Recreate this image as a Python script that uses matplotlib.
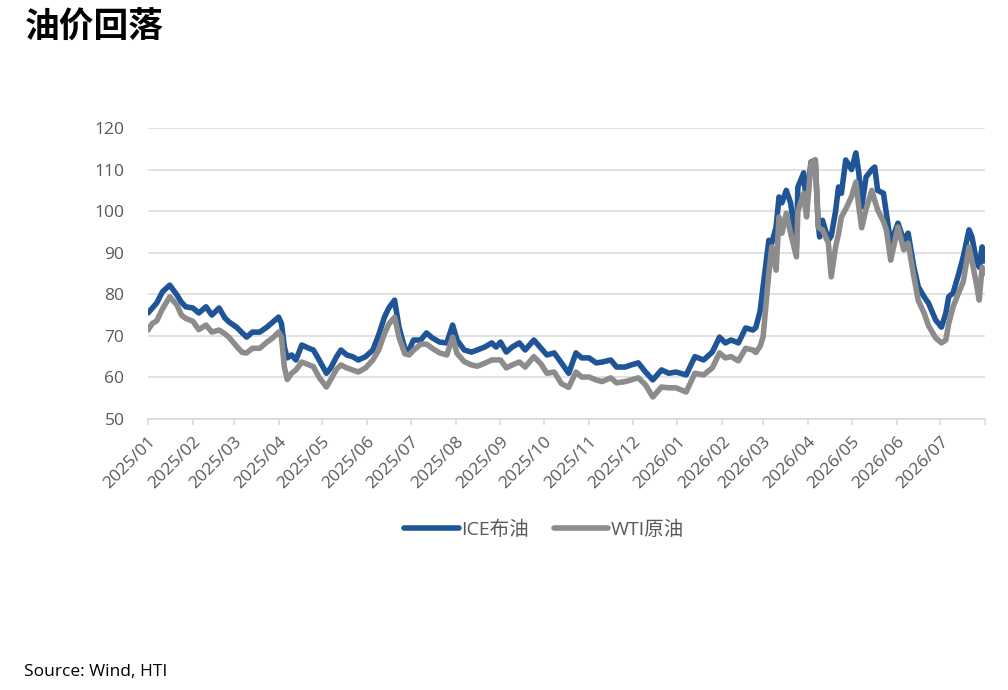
import matplotlib
matplotlib.use("Agg")
import matplotlib.pyplot as plt
import matplotlib.dates as mdates
import pandas as pd

dates = [
    "2025-01-01", "2025-01-04", "2025-01-07", "2025-01-11", "2025-01-16", "2025-01-21", "2025-01-24", "2025-01-27",
    "2025-02-01", "2025-02-05", "2025-02-10", "2025-02-14", "2025-02-19", "2025-02-23", "2025-02-26",
    "2025-03-03", "2025-03-07", "2025-03-10", "2025-03-14", "2025-03-19", "2025-03-24", "2025-03-28",
    "2025-04-01", "2025-04-03", "2025-04-05", "2025-04-07", "2025-04-10", "2025-04-13", "2025-04-17", "2025-04-22",
    "2025-04-25", "2025-04-29",
    "2025-05-04", "2025-05-07", "2025-05-11", "2025-05-14", "2025-05-18", "2025-05-22", "2025-05-26", "2025-05-31",
    "2025-06-05", "2025-06-09", "2025-06-13", "2025-06-16", "2025-06-20", "2025-06-23", "2025-06-27", "2025-06-30",
    "2025-07-03", "2025-07-08", "2025-07-12", "2025-07-16", "2025-07-21", "2025-07-26", "2025-07-30",
    "2025-08-02", "2025-08-07", "2025-08-12", "2025-08-16", "2025-08-21", "2025-08-26", "2025-08-29",
    "2025-09-01", "2025-09-05", "2025-09-09", "2025-09-14", "2025-09-18", "2025-09-24", "2025-09-29",
    "2025-10-03", "2025-10-08", "2025-10-13", "2025-10-18", "2025-10-23", "2025-10-27",
    "2025-11-01", "2025-11-06", "2025-11-10", "2025-11-16", "2025-11-20", "2025-11-26", "2025-11-30",
    "2025-12-05", "2025-12-10", "2025-12-15", "2025-12-21", "2025-12-26", "2025-12-31",
    "2026-01-07", "2026-01-13", "2026-01-19", "2026-01-25", "2026-01-30",
    "2026-02-03", "2026-02-07", "2026-02-12", "2026-02-17", "2026-02-22", "2026-02-24", "2026-02-27",
    "2026-03-01", "2026-03-05", "2026-03-07", "2026-03-10", "2026-03-12", "2026-03-14", "2026-03-17", "2026-03-20",
    "2026-03-24", "2026-03-25", "2026-03-29", "2026-03-31",
    "2026-04-03", "2026-04-06", "2026-04-08", "2026-04-09", "2026-04-11", "2026-04-15", "2026-04-17", "2026-04-20",
    "2026-04-22", "2026-04-24", "2026-04-27",
    "2026-05-01", "2026-05-04", "2026-05-06", "2026-05-08", "2026-05-11", "2026-05-15", "2026-05-17", "2026-05-19",
    "2026-05-23", "2026-05-25", "2026-05-28",
    "2026-06-02", "2026-06-06", "2026-06-09", "2026-06-13", "2026-06-16", "2026-06-20", "2026-06-23", "2026-06-28",
    "2026-07-02", "2026-07-05", "2026-07-07", "2026-07-10", "2026-07-14", "2026-07-17", "2026-07-21", "2026-07-23",
    "2026-07-26", "2026-07-28", "2026-07-30", "2026-07-31",
]

brent = [
    75.5, 76.7, 77.9, 80.6, 82.2, 79.8, 78.1, 77.0,
    76.7, 75.5, 77.0, 75.0, 76.7, 74.3, 73.3,
    72.1, 70.7, 69.7, 70.9, 70.9, 72.1, 73.3,
    74.5, 73.0, 67.3, 64.7, 65.4, 64.2, 67.8, 67.0,
    66.6, 64.2,
    61.0, 62.3, 65.0, 66.6, 65.4, 65.0, 64.2, 65.0,
    66.6, 70.2, 74.5, 76.7, 78.6, 72.1, 67.0, 66.6,
    69.0, 69.0, 70.7, 69.5, 68.5, 68.3, 72.6,
    69.0, 66.6, 66.1, 66.6, 67.3, 68.3, 67.3,
    68.5, 66.1, 67.3, 68.3, 66.6, 69.0, 67.0,
    65.4, 65.9, 63.5, 61.0, 65.9, 64.7,
    64.7, 63.5, 63.7, 64.2, 62.5, 62.5, 63.0,
    63.5, 61.3, 59.4, 61.8, 61.0, 61.3,
    60.6, 65.0, 64.2, 66.1, 69.7,
    68.3, 69.0, 68.3, 71.9, 71.4, 72.0, 76.0,
    81.8, 93.0, 92.3, 96.2, 103.4, 102.0, 105.0, 102.0,
    91.4, 105.8, 109.2, 101.0,
    111.8, 112.3, 97.1, 93.8, 97.8, 93.0, 94.0, 100.0,
    105.8, 104.3, 112.3,
    110.0, 114.0, 109.2, 101.0, 108.2, 110.0, 110.6, 105.0,
    104.3, 99.5, 92.3,
    97.1, 93.0, 94.7, 86.5, 81.8, 79.4, 77.9, 73.8,
    72.1, 75.5, 79.4, 80.3, 85.1, 89.0, 95.5, 93.8,
    88.2, 86.5, 91.4, 88.0,
]

wti = [
    71.4, 73.0, 73.6, 76.5, 79.4, 77.4, 75.0, 74.2,
    73.5, 71.5, 72.6, 70.9, 71.4, 70.5, 69.6,
    67.5, 66.0, 65.9, 67.0, 67.0, 68.5, 69.5,
    70.9, 69.7, 62.5, 59.5, 61.0, 61.8, 63.7, 63.0,
    62.6, 60.0,
    57.7, 59.5, 62.0, 63.0, 62.3, 61.8, 61.3, 62.3,
    64.2, 66.6, 70.5, 72.8, 74.5, 69.7, 65.7, 65.4,
    66.5, 68.0, 68.0, 67.0, 65.9, 65.4, 69.7,
    65.8, 63.8, 63.0, 62.7, 63.4, 64.2, 64.2,
    64.2, 62.3, 63.0, 63.7, 62.5, 65.0, 63.2,
    61.0, 61.3, 58.5, 57.6, 61.3, 60.1,
    60.1, 59.4, 59.0, 59.9, 58.7, 59.0, 59.4,
    59.9, 58.2, 55.3, 57.7, 57.5, 57.5,
    56.5, 61.0, 60.6, 62.3, 65.9,
    64.7, 65.0, 64.0, 67.0, 66.6, 66.0, 67.5,
    69.7, 85.1, 91.4, 85.8, 98.6, 94.7, 99.5, 94.7,
    89.0, 100.0, 104.3, 98.6,
    111.6, 112.3, 96.2, 95.8, 95.5, 92.3, 84.2, 91.4,
    94.5, 98.6, 100.5,
    103.5, 107.0, 101.0, 96.0, 100.5, 105.0, 102.5, 100.3,
    97.5, 95.5, 88.2,
    96.2, 90.7, 92.3, 84.2, 78.5, 75.5, 72.5, 69.5,
    68.3, 69.0, 73.0, 77.0, 80.5, 83.0, 91.4, 88.0,
    82.7, 78.6, 86.5, 85.1,
]

tick_labels = ["2025/01", "2025/02", "2025/03", "2025/04", "2025/05", "2025/06", "2025/07",
               "2025/08", "2025/09", "2025/10", "2025/11", "2025/12", "2026/01", "2026/02",
               "2026/03", "2026/04", "2026/05", "2026/06", "2026/07", ""]
y_ticks = [50, 60, 70, 80, 90, 100, 110, 120]
series_names = ["ICE布油", "WTI原油"]

BLUE = "#1f5596"
GRAY = "#8c8c8c"
GRID = "#d9d9d9"
TXT = "#595959"
FAM = ["Open Sans", "Noto Sans CJK SC", "DejaVu Sans"]

plt.rcParams["font.family"] = FAM

x = pd.to_datetime(dates)
tick_dates = pd.date_range("2025-01-01", "2026-08-01", freq="MS")

fig = plt.figure(figsize=(10.08, 6.9), dpi=100)
ax = fig.add_axes([148 / 1008, 1 - 419 / 690, (985 - 148) / 1008, (419 - 128) / 690])

ax.plot(x, brent, color=BLUE, lw=4.0, solid_joinstyle="round", solid_capstyle="round",
        label=series_names[0], zorder=3)
ax.plot(x, wti, color=GRAY, lw=4.0, solid_joinstyle="round", solid_capstyle="round",
        label=series_names[1], zorder=4)

ax.set_xlim(tick_dates[0], tick_dates[-1])
ax.set_ylim(50, 120)
ax.set_yticks(y_ticks)
ax.set_xticks(tick_dates)
ax.set_xticklabels(tick_labels, rotation=45, ha="right", rotation_mode="anchor")

ax.grid(axis="y", color=GRID, lw=1.1, zorder=0)
ax.set_axisbelow(True)
for s in ["top", "right", "left"]:
    ax.spines[s].set_visible(False)
ax.spines["bottom"].set_color(GRID)
ax.spines["bottom"].set_linewidth(1.1)
ax.spines["bottom"].set_zorder(1)

ax.tick_params(axis="y", length=0, pad=17, labelsize=12.5, labelcolor=TXT)
ax.tick_params(axis="x", length=4.5, width=1.1, color=GRID, pad=6, labelsize=12.5, labelcolor=TXT)

leg = fig.legend(loc="center", bbox_to_anchor=(544 / 1008, 1 - 530 / 690), ncol=2, frameon=False,
                 handlelength=2.8, handletextpad=0.12, columnspacing=1.3, fontsize=14,
                 labelcolor=TXT)
for h in leg.get_lines():
    h.set_linewidth(4.0)
    h.set_solid_capstyle("round")

fig.text(25 / 1008, 1 - 27 / 690, "油价回落", fontsize=25, fontweight="bold",
         family=["Noto Sans CJK SC", "DejaVu Sans"], va="center", ha="left", color="black")
fig.text(24 / 1008, 1 - 672 / 690, "Source: Wind, HTI", fontsize=12.5, va="center", ha="left",
         color="black", family=FAM)

fig.savefig("out.png", dpi=100)
